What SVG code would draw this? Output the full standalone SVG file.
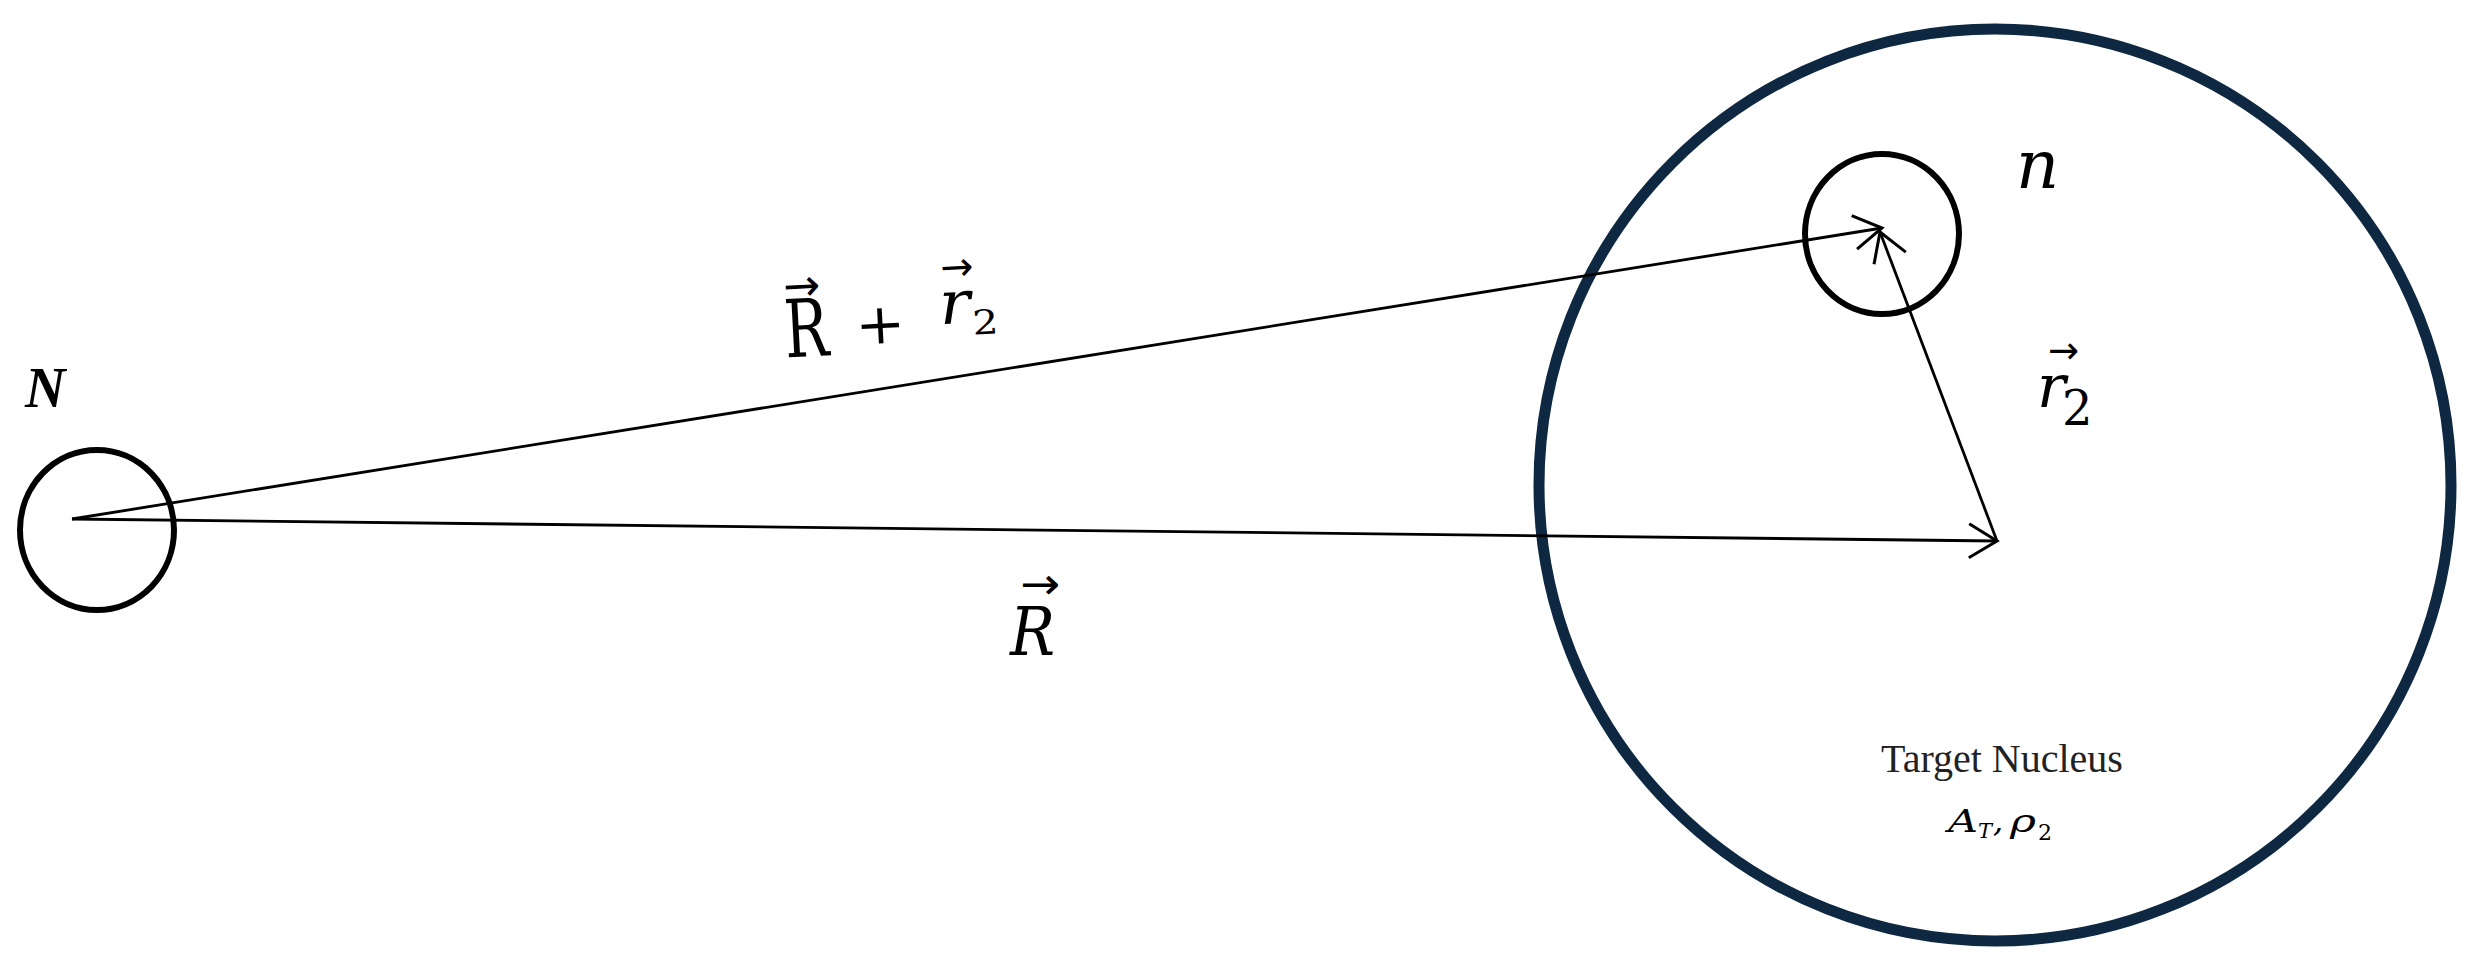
<svg xmlns="http://www.w3.org/2000/svg" width="2480" height="971" viewBox="0 0 2480 971">
<style>
.ring{fill:none;stroke:#000;stroke-width:6}
.big{fill:none;stroke:#0E2841;stroke-width:11}
.conn{fill:none;stroke:#000;stroke-width:2.8}
.m{font-family:"DejaVu Serif","Liberation Serif",serif;fill:#000}
.mi{font-family:"DejaVu Serif","Liberation Serif",serif;font-style:italic;fill:#000}
.up{font-style:normal}
.vec{font-family:"DejaVu Sans","Liberation Sans",sans-serif;font-style:normal}
.t{font-family:"Liberation Serif","Times New Roman",serif;fill:#222}
</style>
<defs>
<marker id="arr" markerUnits="userSpaceOnUse" markerWidth="40" markerHeight="40" refX="30" refY="20" orient="auto" overflow="visible">
<path d="M2,3 L30,20 L2,37" fill="none" stroke="#000" stroke-width="3"/>
</marker>
</defs>
<rect width="2480" height="971" fill="#fff"/>
<g id="target">
<circle class="big" cx="1995" cy="485" r="456"/>
<text class="t" x="1881" y="772" font-size="40">Target Nucleus</text>
<text class="mi" font-size="32"><tspan x="1948" y="832" textLength="30" lengthAdjust="spacingAndGlyphs">A</tspan><tspan x="1978" y="838" font-size="21">T</tspan><tspan x="1993" y="832">,</tspan><tspan x="2010" y="832" textLength="26" lengthAdjust="spacingAndGlyphs">ρ</tspan><tspan class="up" x="2038" y="840" font-size="22">2</tspan></text>
</g>
<g id="projectile">
<ellipse class="ring" cx="97" cy="530" rx="77" ry="80"/>
<text x="25" y="407" font-size="56" font-family="Liberation Serif,serif" font-style="italic" font-weight="bold">N</text>
</g>
<g id="nucleon">
<ellipse class="ring" cx="1882" cy="234" rx="77" ry="80"/>
<text class="mi" x="2016" y="188" font-size="67">n</text>
</g>
<g id="connectors">
<path class="conn" d="M72,519 L1997,541" marker-end="url(#arr)"/>
<path class="conn" d="M72,519 L1882,228" marker-end="url(#arr)"/>
<path class="conn" d="M1997,541 L1880,232" marker-end="url(#arr)"/>
</g>
<g id="label-R">
<text class="mi" font-size="68"><tspan class="vec" x="1020" y="599" font-size="44" textLength="40" lengthAdjust="spacingAndGlyphs">→</tspan><tspan x="1010" y="655" textLength="45" lengthAdjust="spacingAndGlyphs">R</tspan></text>
</g>
<g id="label-RR2" transform="rotate(-3 890 320)">
<text class="m" font-size="80"><tspan class="vec" x="785" y="296" font-size="44" textLength="37" lengthAdjust="spacingAndGlyphs">→</tspan><tspan x="784" y="352" textLength="44" lengthAdjust="spacingAndGlyphs">R</tspan><tspan x="855" y="343" font-size="56" textLength="50" lengthAdjust="spacingAndGlyphs">+</tspan><tspan class="vec" x="943" y="284" font-size="40" textLength="33" lengthAdjust="spacingAndGlyphs">→</tspan><tspan x="940" y="327" font-size="60" font-style="italic" textLength="31" lengthAdjust="spacingAndGlyphs">r</tspan><tspan x="972" y="339" font-size="34" textLength="26" lengthAdjust="spacingAndGlyphs">2</tspan></text>
</g>
<g id="label-r2">
<text class="mi" font-size="60"><tspan class="vec" x="2048" y="363" font-size="38" textLength="31" lengthAdjust="spacingAndGlyphs">→</tspan><tspan x="2037" y="407">r</tspan><tspan class="up" x="2062" y="425" font-size="48">2</tspan></text>
</g>
</svg>
